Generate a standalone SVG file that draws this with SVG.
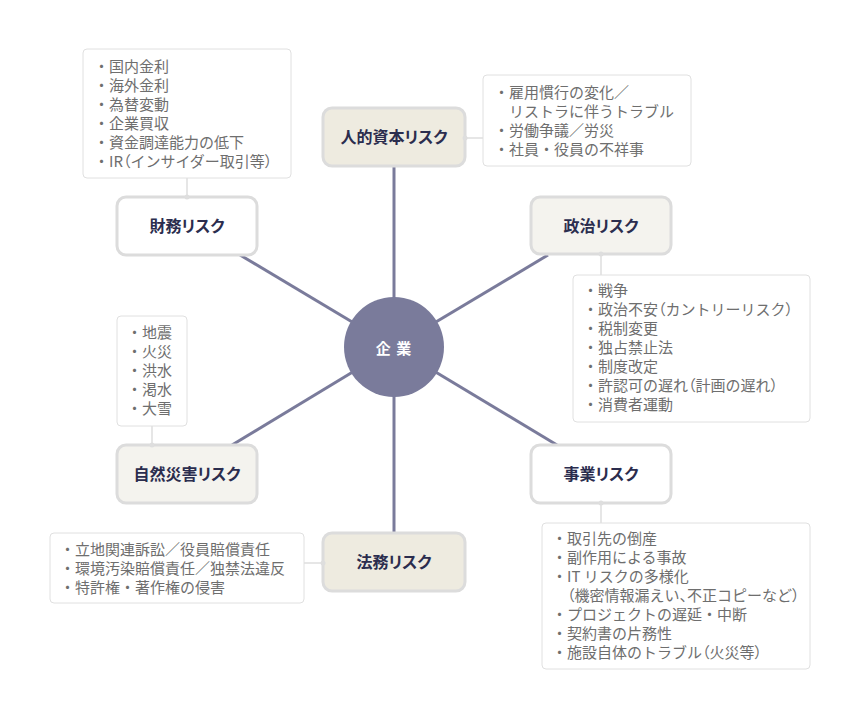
<svg xmlns="http://www.w3.org/2000/svg" width="860" height="720" viewBox="0 0 860 720">
<style>
text{font-family:"Noto Sans CJK JP","Noto Sans",sans-serif;}
.spoke{stroke:#7a7b9b;stroke-width:3;fill:none;}
.conn{stroke:#dedede;stroke-width:1.5;fill:none;}
.dot{fill:#dedede;}
.node{stroke:#dcdcdc;stroke-width:3;}
.w{fill:#ffffff;}
.g{fill:#f4f3ee;}
.b{fill:#eeebe0;}
.nt{font-size:16px;font-weight:bold;fill:#2b2d4e;text-anchor:middle;font-feature-settings:"palt";}
.box{fill:#ffffff;stroke:#e0e0e0;stroke-width:1;}
.bt{font-size:15px;fill:#6e6e6e;}
.p{font-feature-settings:"palt";}
</style>
<rect width="860" height="720" fill="#ffffff"/>
<g id="connectors">
<line class="spoke" x1="394" y1="347" x2="394" y2="167"/>
<line class="spoke" x1="394" y1="347" x2="394" y2="533"/>
<line class="spoke" x1="394" y1="347" x2="240" y2="255"/>
<line class="spoke" x1="394" y1="347" x2="548" y2="255"/>
<line class="spoke" x1="394" y1="347" x2="232" y2="445"/>
<line class="spoke" x1="394" y1="347" x2="557" y2="445"/>
<line class="conn" x1="187" y1="178" x2="187" y2="197"/>
<line class="conn" x1="465" y1="138" x2="483" y2="138"/>
<line class="conn" x1="601" y1="254" x2="601" y2="275"/>
<line class="conn" x1="152" y1="426" x2="152" y2="445"/>
<line class="conn" x1="304" y1="563" x2="323" y2="563"/>
<line class="conn" x1="601" y1="503" x2="601" y2="523"/>
</g>
<g id="center">
<circle cx="394" cy="347" r="50" fill="#7a7b9b"/>
<text x="394" y="354" font-size="15" font-weight="bold" fill="#ffffff" text-anchor="middle" letter-spacing="1">企 業</text>
</g>
<g id="node-zaimu">
<rect class="node w" x="117" y="197" width="140" height="58" rx="9"/>
<circle class="dot" cx="187" cy="197" r="2.5"/>
<text class="nt" x="187" y="232">財務リスク</text>
</g>
<g id="node-jinteki">
<rect class="node b" x="323" y="108" width="142" height="58" rx="9"/>
<circle class="dot" cx="465" cy="138" r="2.5"/>
<text class="nt" x="394" y="143">人的資本リスク</text>
</g>
<g id="node-seiji">
<rect class="node g" x="531" y="197" width="140" height="57" rx="9"/>
<circle class="dot" cx="601" cy="254" r="2.5"/>
<text class="nt" x="601" y="232">政治リスク</text>
</g>
<g id="node-shizen">
<rect class="node g" x="117" y="445" width="140" height="58" rx="9"/>
<circle class="dot" cx="152" cy="445" r="2.5"/>
<text class="nt" x="187" y="480">自然災害リスク</text>
</g>
<g id="node-houmu">
<rect class="node b" x="323" y="533" width="142" height="58" rx="9"/>
<circle class="dot" cx="323" cy="563" r="2.5"/>
<text class="nt" x="394" y="568">法務リスク</text>
</g>
<g id="node-jigyou">
<rect class="node w" x="531" y="445" width="140" height="58" rx="9"/>
<circle class="dot" cx="601" cy="503" r="2.5"/>
<text class="nt" x="601" y="480">事業リスク</text>
</g>
<g id="box-zaimu">
<rect class="box" x="83" y="49" width="208" height="129" rx="4"/>
<text class="bt" x="94" y="72">・国内金利</text>
<text class="bt" x="94" y="91">・海外金利</text>
<text class="bt" x="94" y="110">・為替変動</text>
<text class="bt" x="94" y="129">・企業買収</text>
<text class="bt" x="94" y="148">・資金調達能力の低下</text>
<text class="bt" x="94" y="167">・IR<tspan class="p">（</tspan>インサイダー取引等<tspan class="p">）</tspan></text>
</g>
<g id="box-jinteki">
<rect class="box" x="483" y="75" width="208" height="91" rx="4"/>
<text class="bt" x="494" y="98">・雇用慣行の変化／</text>
<text class="bt" x="509" y="117">リストラに伴うトラブル</text>
<text class="bt" x="494" y="136">・労働争議／労災</text>
<text class="bt" x="494" y="155">・社員・役員の不祥事</text>
</g>
<g id="box-seiji">
<rect class="box" x="573" y="275" width="237" height="147" rx="4"/>
<text class="bt" x="583" y="296">・戦争</text>
<text class="bt" x="583" y="315">・政治不安<tspan class="p">（</tspan>カントリーリスク<tspan class="p">）</tspan></text>
<text class="bt" x="583" y="334">・税制変更</text>
<text class="bt" x="583" y="353">・独占禁止法</text>
<text class="bt" x="583" y="372">・制度改定</text>
<text class="bt" x="583" y="391">・許認可の遅れ<tspan class="p">（</tspan>計画の遅れ<tspan class="p">）</tspan></text>
<text class="bt" x="583" y="410">・消費者運動</text>
</g>
<g id="box-shizen">
<rect class="box" x="117" y="316" width="70" height="110" rx="4"/>
<text class="bt" x="127" y="338">・地震</text>
<text class="bt" x="127" y="357">・火災</text>
<text class="bt" x="127" y="376">・洪水</text>
<text class="bt" x="127" y="395">・渇水</text>
<text class="bt" x="127" y="414">・大雪</text>
</g>
<g id="box-houmu">
<rect class="box" x="50" y="533" width="254" height="70" rx="4"/>
<text class="bt" x="60" y="555">・立地関連訴訟／役員賠償責任</text>
<text class="bt" x="60" y="574">・環境汚染賠償責任／独禁法違反</text>
<text class="bt" x="60" y="593">・特許権・著作権の侵害</text>
</g>
<g id="box-jigyou">
<rect class="box" x="542" y="523" width="268" height="146" rx="4"/>
<text class="bt" x="552" y="544">・取引先の倒産</text>
<text class="bt" x="552" y="563">・副作用による事故</text>
<text class="bt" x="552" y="582">・IT リスクの多様化</text>
<text class="bt" x="567" y="601"><tspan class="p">（</tspan>機密情報漏えい<tspan class="p">、</tspan>不正コピーなど<tspan class="p">）</tspan></text>
<text class="bt" x="552" y="620">・プロジェクトの遅延・中断</text>
<text class="bt" x="552" y="639">・契約書の片務性</text>
<text class="bt" x="552" y="658">・施設自体のトラブル<tspan class="p">（</tspan>火災等<tspan class="p">）</tspan></text>
</g>
</svg>
